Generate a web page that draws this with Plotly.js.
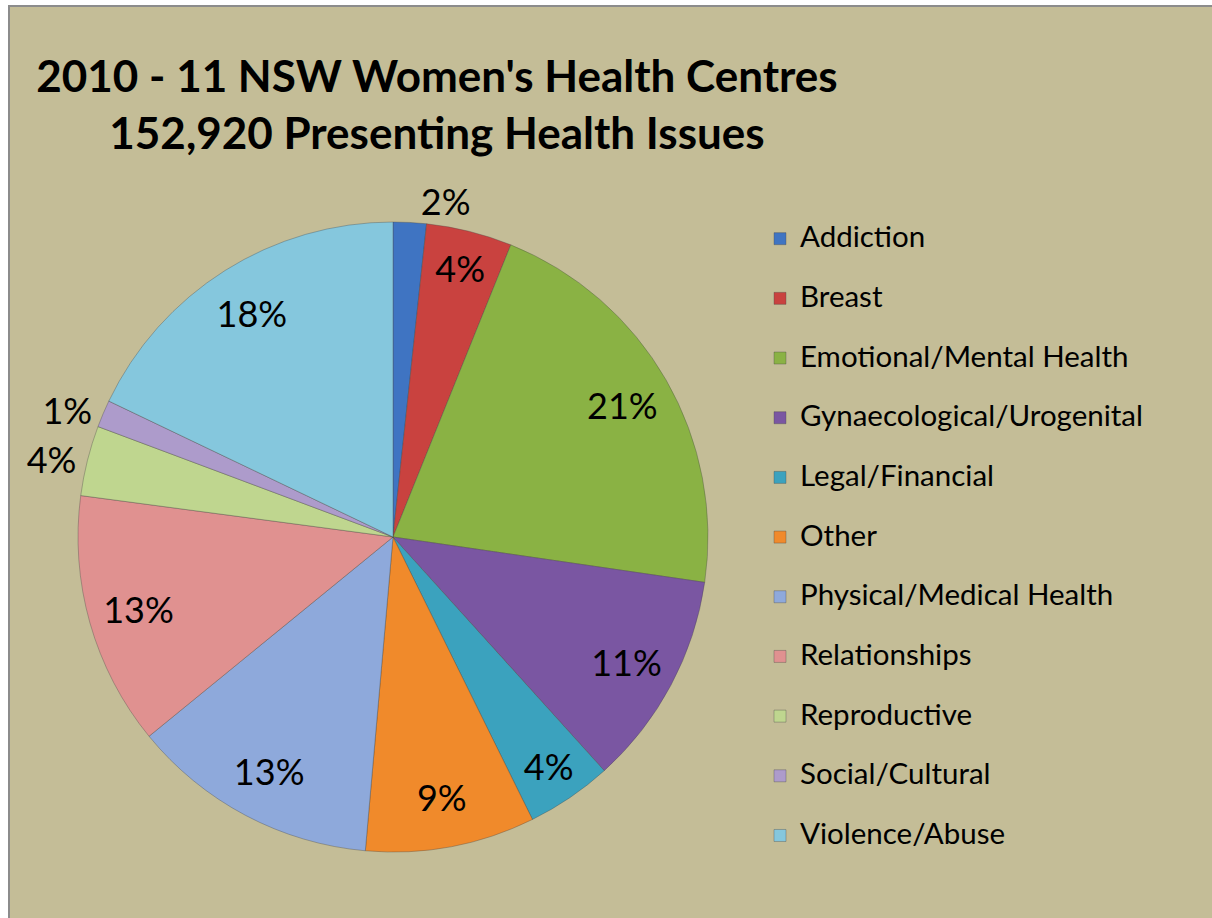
<!DOCTYPE html>
<html>
<head>
<meta charset="utf-8">
<script src="https://cdn.plot.ly/plotly-3.0.1.min.js"></script>
<style>
  html, body { margin: 0; padding: 0; background: #ffffff; width: 1212px; height: 918px; overflow: hidden; }
  #frame { position: absolute; left: 8px; top: 5px; width: 1202px; height: 920px; border: 2px solid #8c8c8c; background: #C4BD97; }
  #chart { position: absolute; left: 0; top: 0; width: 1212px; height: 918px; }
</style>
</head>
<body>
<div id="frame"></div>
<div id="chart"></div>
<script>
// Data (share of 152,920 presenting health issues, %)
const categories = [
  'Addiction', 'Breast', 'Emotional/Mental Health', 'Gynaecological/Urogenital',
  'Legal/Financial', 'Other', 'Physical/Medical Health', 'Relationships',
  'Reproductive', 'Social/Cultural', 'Violence/Abuse'
];
const shares = [1.7, 4.4, 21.2, 11.0, 4.4, 8.7, 12.7, 13.0, 3.6, 1.4, 17.9];
const sliceColors = [
  '#3F74C2', '#C9423F', '#8AB244', '#7A56A2', '#3BA2BE', '#F08A2B',
  '#8EA9DB', '#E09190', '#BFD68F', '#AD9BCB', '#85C7DD'
];
const labelPositions = [
  'outside', 'inside', 'inside', 'inside', 'inside', 'inside',
  'inside', 'inside', 'outside', 'outside', 'inside'
];
const titleLines = ["2010 - 11 NSW Women's Health Centres", "152,920 Presenting Health Issues"];

const W = 1212, H = 918;
const cx = 393, cy = 537, R = 315;
const domain = {
  x: [(cx - R) / W, (cx + R) / W],
  y: [1 - (cy + R) / H, 1 - (cy - R) / H]
};

const legendLabels = categories.map(c => "<span style='font-size:29.5px'>" + c + "</span><br> ");

// Visible pie (slices + legend)
const pieTrace = {
  type: 'pie',
  labels: legendLabels,
  values: shares,
  sort: false,
  direction: 'clockwise',
  rotation: 0,
  marker: { colors: sliceColors, line: { color: 'rgba(70,70,70,0.35)', width: 1 } },
  textinfo: 'none',
  hoverinfo: 'skip',
  domain: domain
};

// Transparent ring carrying the percentage labels near the rim
const labelTrace = {
  type: 'pie',
  labels: legendLabels,
  values: shares,
  sort: false,
  direction: 'clockwise',
  rotation: 0,
  hole: 0.68,
  showlegend: false,
  marker: { colors: sliceColors.map(() => 'rgba(0,0,0,0)'), line: { width: 0 } },
  texttemplate: '%{percent:.0%}',
  textposition: labelPositions,
  insidetextorientation: 'horizontal',
  textfont: { family: 'Lato, sans-serif', size: 36, color: '#000000' },
  hoverinfo: 'skip',
  domain: domain
};

const layout = {
  width: W, height: H,
  margin: { l: 0, r: 0, t: 0, b: 0 },
  paper_bgcolor: 'rgba(0,0,0,0)',
  plot_bgcolor: 'rgba(0,0,0,0)',
  uniformtext: { mode: 'show', minsize: 36 },
  title: {
    text: '<b>' + titleLines.join('<br>') + '</b>',
    x: 437 / W, xanchor: 'center', xref: 'container',
    y: 1 - 92 / H, yanchor: 'top', yref: 'container',
    font: { family: 'Lato, sans-serif', size: 44, color: '#000000' }
  },
  showlegend: true,
  legend: {
    x: 760 / W, xanchor: 'left',
    y: 1 - 218 / H, yanchor: 'top',
    bgcolor: 'rgba(0,0,0,0)',
    borderwidth: 0,
    valign: 'top',
    font: { family: 'Lato, sans-serif', size: 21.8, color: '#000000' },
    traceorder: 'normal'
  }
};

Plotly.newPlot('chart', [pieTrace, labelTrace], layout, { displayModeBar: false, staticPlot: true });
</script>
</body>
</html>
